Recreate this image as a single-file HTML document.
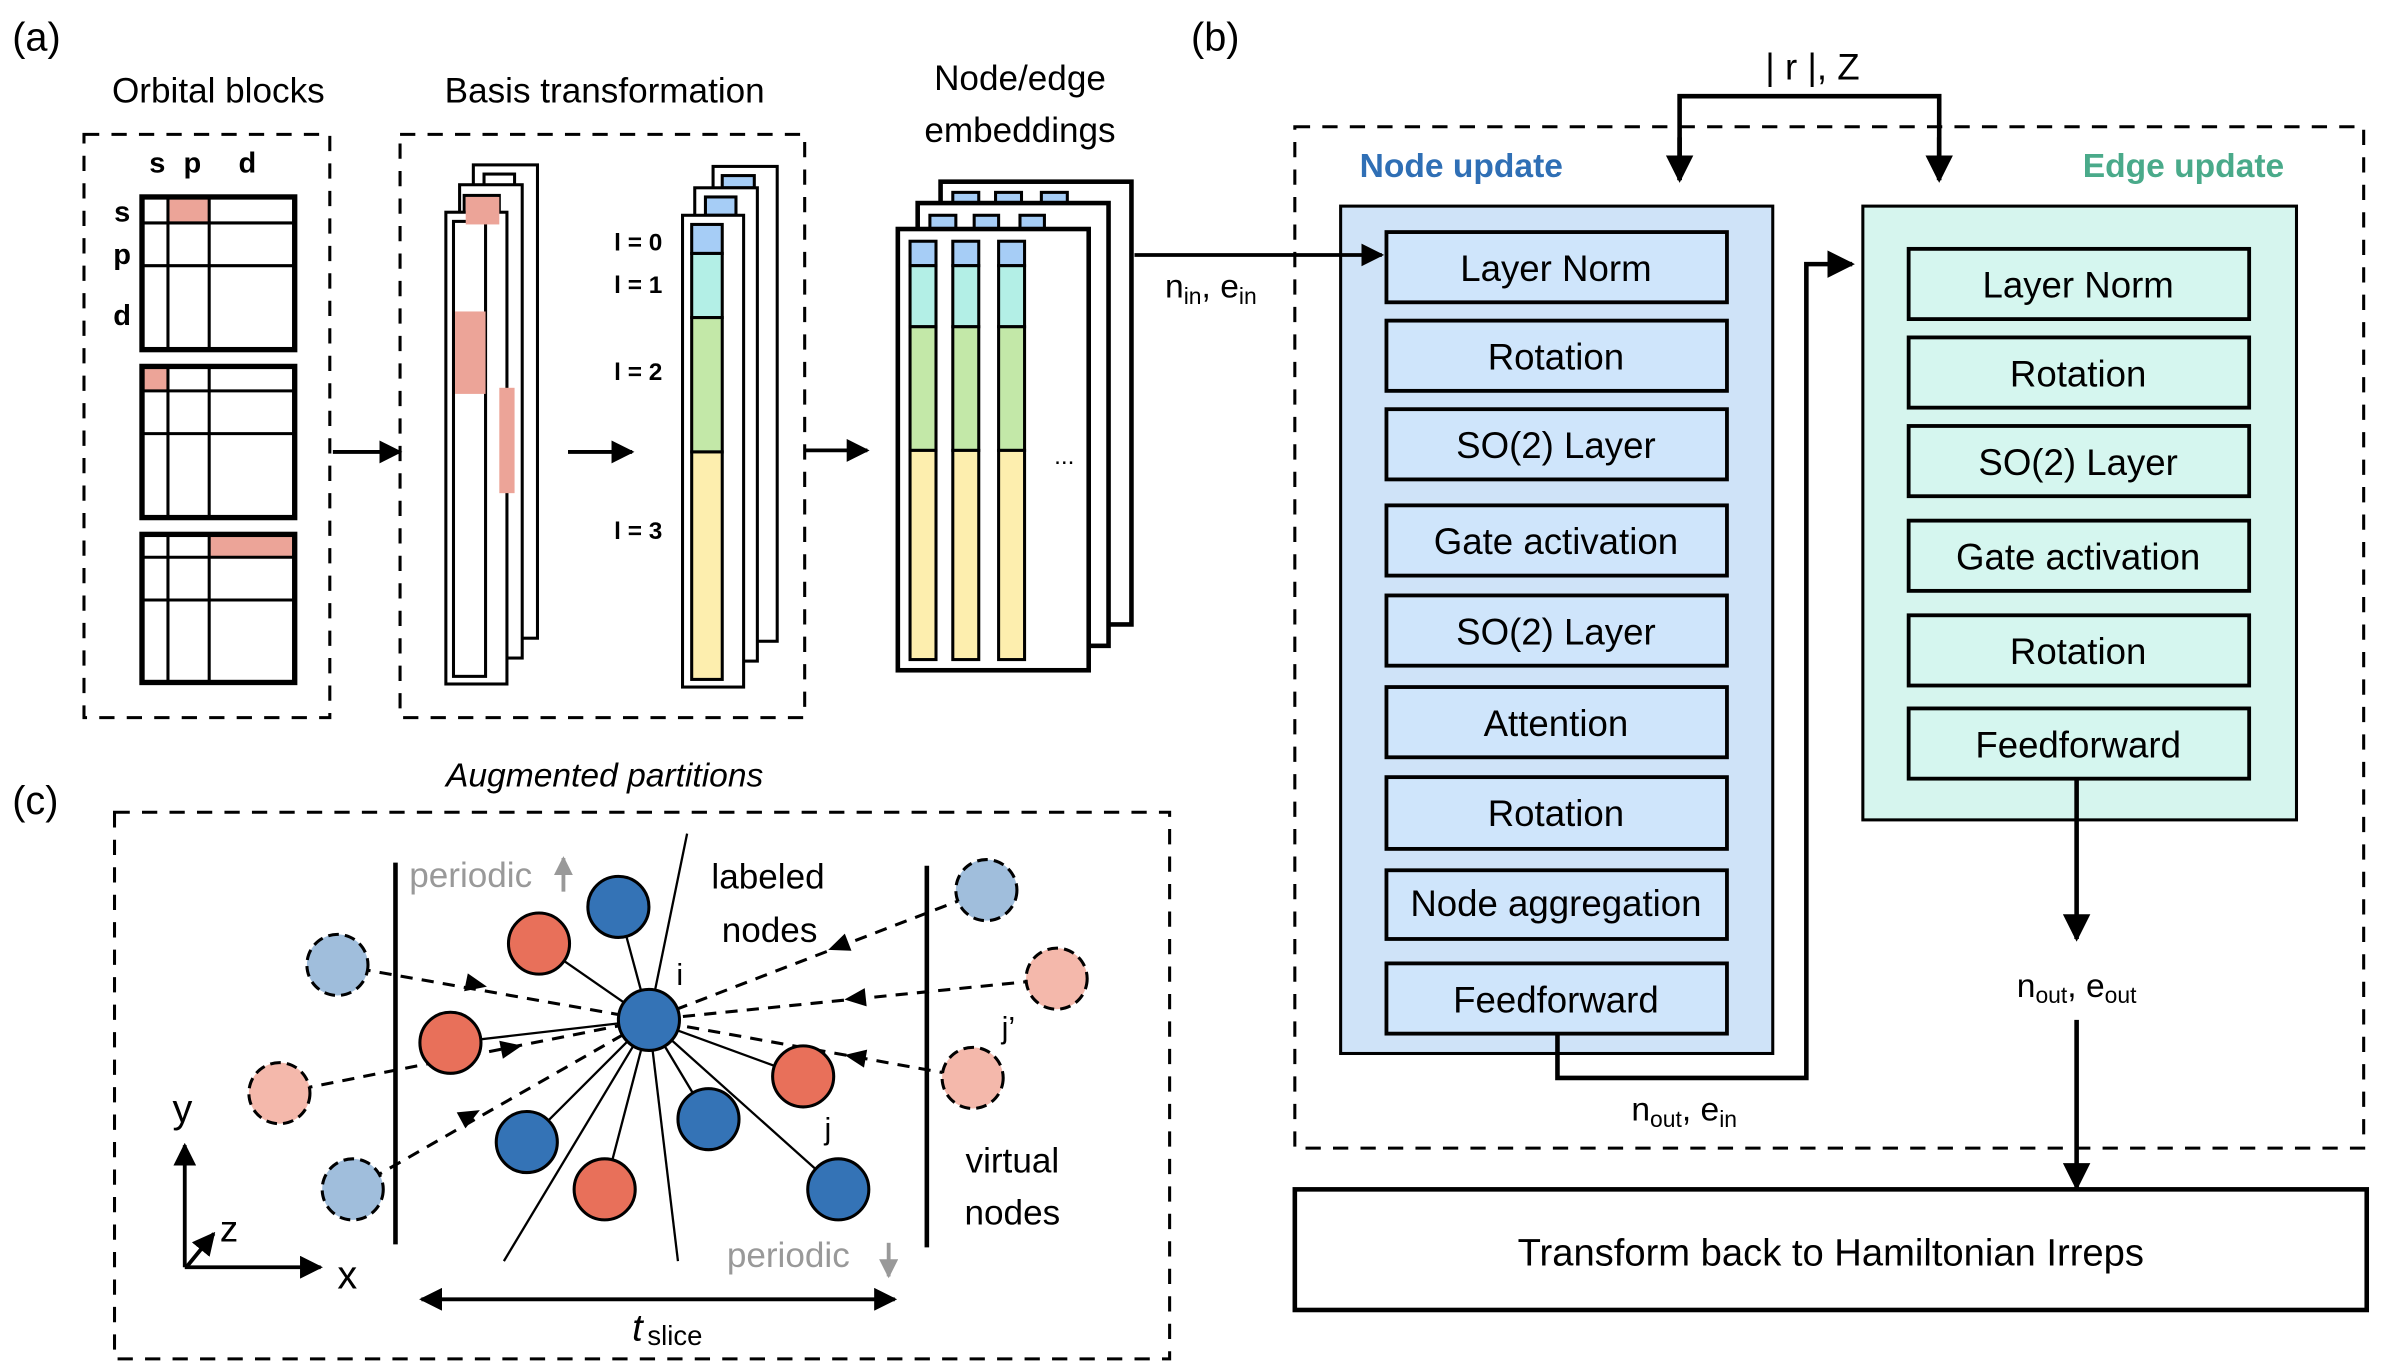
<!DOCTYPE html>
<html><head><meta charset="utf-8"><style>
html,body{margin:0;padding:0;background:#fff;}
svg{display:block;}
text{font-family:"Liberation Sans",sans-serif;}
</style></head><body>
<svg width="2382" height="1368" viewBox="0 0 1560 896" preserveAspectRatio="none" xmlns="http://www.w3.org/2000/svg">
<defs>
<marker id="ah" viewBox="0 0 10 10" refX="9" refY="5" markerWidth="6" markerHeight="6" orient="auto-start-reverse"><path d="M0,0 L10,5 L0,10 z" fill="#000"/></marker>
<marker id="ag" viewBox="0 0 10 10" refX="9" refY="5" markerWidth="5" markerHeight="5" orient="auto"><path d="M0,0 L10,5 L0,10 z" fill="#999"/></marker>
</defs>
<g font-size="26"><text x="8" y="33">(a)</text><text x="780" y="33">(b)</text><text x="8" y="533">(c)</text></g>

<!-- Panel a -->
<g fill="none" stroke="#000" stroke-width="2" stroke-dasharray="10,8">
<rect x="55" y="88" width="161" height="382"/>
<rect x="262" y="88" width="265" height="382"/>
</g>
<g font-size="23" text-anchor="middle">
<text x="143" y="67">Orbital blocks</text>
<text x="396" y="67">Basis transformation</text>
<text x="668" y="59">Node/edge</text>
<text x="668" y="93">embeddings</text>
</g>
<g font-size="19" font-weight="bold" text-anchor="middle">
<text x="103" y="113">s</text><text x="126" y="113">p</text><text x="162" y="113">d</text>
<text x="80" y="145">s</text><text x="80" y="173">p</text><text x="80" y="213">d</text>
</g>
<g fill="#eca498">
<rect x="110" y="129" width="27" height="17"/>
<rect x="94" y="241" width="16" height="15"/>
<rect x="137" y="350" width="56" height="15"/>
</g>
<g fill="none" stroke="#000" stroke-width="2">
<rect x="93" y="129" width="100" height="100" stroke-width="3.5"/>
<path d="M110 129V229M137 129V229M93 146H193M93 174H193"/>
<rect x="93" y="240" width="100" height="99" stroke-width="3.5"/>
<path d="M110 240V339M137 240V339M93 256H193M93 284H193"/>
<rect x="93" y="350" width="100" height="97" stroke-width="3.5"/>
<path d="M110 350V447M137 350V447M93 365H193M93 393H193"/>
</g>
<!-- basis stack -->
<g stroke="#000" stroke-width="2" fill="#fff">
<rect x="310" y="108" width="42" height="310"/>
<rect x="317" y="114" width="20" height="311"/>
<rect x="301" y="121" width="41" height="310"/>
<rect x="304" y="128" width="23" height="305"/>
<rect x="292" y="139" width="40" height="309"/>
<rect x="297" y="145" width="21" height="298"/>
</g>
<rect x="305" y="129" width="22" height="18" fill="#eca498"/>
<rect x="298" y="204" width="20" height="54" fill="#eca498"/>
<rect x="327" y="254" width="10" height="69" fill="#eca498"/>
<!-- l stack -->
<g stroke="#000" stroke-width="2" fill="#fff">
<rect x="467" y="109" width="42" height="311"/>
<rect x="473" y="115" width="21" height="8" fill="#a6cdf6"/>
<rect x="455" y="123" width="41" height="310"/>
<rect x="462" y="129" width="20" height="12" fill="#a6cdf6"/>
<rect x="447" y="141" width="40" height="309"/>
<rect x="453" y="147" width="20" height="19" fill="#a6cdf6"/>
<rect x="453" y="166" width="20" height="42" fill="#b3efe6"/>
<rect x="453" y="208" width="20" height="88" fill="#c3e8a8"/>
<rect x="453" y="296" width="20" height="149" fill="#fdeeae"/>
</g>
<g font-size="16" font-weight="bold" text-anchor="middle">
<text x="418" y="164">l = 0</text><text x="418" y="192">l = 1</text><text x="418" y="249">l = 2</text><text x="418" y="353">l = 3</text>
</g>
<!-- embeddings -->
<g stroke="#000" stroke-width="2">
<rect x="616" y="119" width="125" height="290" fill="#fff" stroke-width="3"/>
<rect x="624" y="126" width="17" height="7" fill="#a6cdf6"/><rect x="652" y="126" width="17" height="7" fill="#a6cdf6"/><rect x="682" y="126" width="17" height="7" fill="#a6cdf6"/>
<rect x="601" y="133" width="125" height="290" fill="#fff" stroke-width="3"/>
<rect x="609" y="141" width="17" height="9" fill="#a6cdf6"/><rect x="638" y="141" width="16" height="9" fill="#a6cdf6"/><rect x="668" y="141" width="16" height="9" fill="#a6cdf6"/>
<rect x="588" y="150" width="125" height="289" fill="#fff" stroke-width="3"/>
</g>
<g stroke="#000" stroke-width="2">
<g id="col"><rect x="596" y="158" width="17" height="16" fill="#a6cdf6"/><rect x="596" y="174" width="17" height="40" fill="#b3efe6"/><rect x="596" y="214" width="17" height="81" fill="#c3e8a8"/><rect x="596" y="295" width="17" height="137" fill="#fdeeae"/></g>
<use href="#col" x="28"/><use href="#col" x="58"/>
</g>
<text x="697" y="304" font-size="16" text-anchor="middle">...</text>
<g stroke="#000" stroke-width="2.5" fill="none" marker-end="url(#ah)">
<path d="M218 296H262"/><path d="M372 296H414"/><path d="M527 295H568"/>
</g>
<text x="763" y="195" font-size="22">n<tspan font-size="15" dy="4">in</tspan><tspan dy="-4">, e</tspan><tspan font-size="15" dy="4">in</tspan></text>

<!-- Panel b -->
<rect x="848" y="83" width="700" height="669" fill="none" stroke="#000" stroke-width="2" stroke-dasharray="10,8"/>
<text x="1187" y="52" font-size="24" text-anchor="middle">| r |, Z</text>
<path d="M1100 118V63H1270V118" fill="none" stroke="#000" stroke-width="3"/>
<path d="M1100 90V118" stroke="#000" stroke-width="3" marker-end="url(#ah)"/>
<path d="M1270 90V118" stroke="#000" stroke-width="3" marker-end="url(#ah)"/>
<text x="957" y="116" font-size="22" font-weight="bold" fill="#2f6fb5" text-anchor="middle">Node update</text>
<text x="1430" y="116" font-size="22" font-weight="bold" fill="#4aaa8a" text-anchor="middle">Edge update</text>
<rect x="878" y="135" width="283" height="555" fill="#cfe3f8" stroke="#000" stroke-width="2"/>
<rect x="1220" y="135" width="284" height="402" fill="#d6f5ee" stroke="#000" stroke-width="2"/>
<g stroke="#000" stroke-width="2.5" fill="#cfe5fb">
<rect x="908" y="152" width="223" height="46"/><rect x="908" y="210" width="223" height="46"/>
<rect x="908" y="268" width="223" height="46"/><rect x="908" y="331" width="223" height="46"/>
<rect x="908" y="390" width="223" height="46"/><rect x="908" y="450" width="223" height="46"/>
<rect x="908" y="509" width="223" height="47"/><rect x="908" y="570" width="223" height="45"/>
<rect x="908" y="631" width="223" height="46"/>
</g>
<g stroke="#000" stroke-width="2.5" fill="#d5f6ef">
<rect x="1250" y="163" width="223" height="46"/><rect x="1250" y="221" width="223" height="46"/>
<rect x="1250" y="279" width="223" height="46"/><rect x="1250" y="341" width="223" height="46"/>
<rect x="1250" y="403" width="223" height="46"/><rect x="1250" y="464" width="223" height="46"/>
</g>
<g font-size="24" text-anchor="middle">
<text x="1019" y="184">Layer Norm</text><text x="1019" y="242">Rotation</text>
<text x="1019" y="300">SO(2) Layer</text><text x="1019" y="363">Gate activation</text>
<text x="1019" y="422">SO(2) Layer</text><text x="1019" y="482">Attention</text>
<text x="1019" y="541">Rotation</text><text x="1019" y="600">Node aggregation</text>
<text x="1019" y="663">Feedforward</text>
<text x="1361" y="195">Layer Norm</text><text x="1361" y="253">Rotation</text>
<text x="1361" y="311">SO(2) Layer</text><text x="1361" y="373">Gate activation</text>
<text x="1361" y="435">Rotation</text><text x="1361" y="496">Feedforward</text>
</g>
<path d="M743 167H905" fill="none" stroke="#000" stroke-width="2.5" marker-end="url(#ah)"/>
<path d="M1020 677V706H1183V173H1213" fill="none" stroke="#000" stroke-width="3" marker-end="url(#ah)"/>
<text x="1103" y="734" font-size="22" text-anchor="middle">n<tspan font-size="15" dy="4">out</tspan><tspan dy="-4">, e</tspan><tspan font-size="15" dy="4">in</tspan></text>
<path d="M1360 510V615" stroke="#000" stroke-width="3" marker-end="url(#ah)"/>
<text x="1360" y="653" font-size="22" text-anchor="middle">n<tspan font-size="15" dy="4">out</tspan><tspan dy="-4">, e</tspan><tspan font-size="15" dy="4">out</tspan></text>
<path d="M1360 668V778" stroke="#000" stroke-width="3" marker-end="url(#ah)"/>
<rect x="848" y="779" width="702" height="79" fill="#fff" stroke="#000" stroke-width="3"/>
<text x="1199" y="829" font-size="25" text-anchor="middle">Transform back to Hamiltonian Irreps</text>

<!-- Panel c -->
<text x="396" y="515" font-size="22" font-style="italic" text-anchor="middle">Augmented partitions</text>
<rect x="75" y="532" width="691" height="358" fill="none" stroke="#000" stroke-width="2" stroke-dasharray="10,8"/>
<path d="M259 565V815M607 567V817" stroke="#000" stroke-width="3"/>
<g stroke="#000" stroke-width="1.5">
<path d="M425 668L450 546"/><path d="M425 668L405 594"/><path d="M425 668L353 618"/>
<path d="M425 668L295 683"/><path d="M425 668L330 826"/><path d="M425 668L444 826"/>
<path d="M425 668L345 748"/><path d="M425 668L396 779"/><path d="M425 668L464 733"/>
<path d="M425 668L526 705"/><path d="M425 668L549 779"/>
</g>
<g stroke="#000" stroke-width="2" stroke-dasharray="8,6" fill="none">
<path d="M221 632L425 668"/><path d="M183 716L425 668"/><path d="M231 779L425 668"/>
<path d="M646 583L425 668"/><path d="M692 641L425 668"/><path d="M637 706L425 668"/>
</g>
<g fill="#000">
<path d="M6,0 L-8,-6 L-8,6 z" transform="translate(313,645) rotate(11.6)"/>
<path d="M6,0 L-8,-6 L-8,6 z" transform="translate(336,686) rotate(-11.4)"/>
<path d="M6,0 L-8,-6 L-8,6 z" transform="translate(309,730) rotate(-28.5)"/>
<path d="M6,0 L-8,-6 L-8,6 z" transform="translate(548,620) rotate(158.7)"/>
<path d="M6,0 L-8,-6 L-8,6 z" transform="translate(559,654) rotate(174)"/>
<path d="M6,0 L-8,-6 L-8,6 z" transform="translate(559,692) rotate(190)"/>
</g>
<g stroke="#000" stroke-width="2">
<g fill="#3473b6"><circle cx="405" cy="594" r="20"/><circle cx="425" cy="668" r="20"/><circle cx="345" cy="748" r="20"/><circle cx="464" cy="733" r="20"/><circle cx="549" cy="779" r="20"/></g>
<g fill="#e8705a"><circle cx="353" cy="618" r="20"/><circle cx="295" cy="683" r="20"/><circle cx="526" cy="705" r="20"/><circle cx="396" cy="779" r="20"/></g>
<g stroke-dasharray="7,4"><g fill="#a0bedc"><circle cx="221" cy="632" r="20"/><circle cx="646" cy="583" r="20"/><circle cx="231" cy="779" r="20"/></g>
<g fill="#f4b8ab"><circle cx="183" cy="716" r="20"/><circle cx="692" cy="641" r="20"/><circle cx="637" cy="706" r="20"/></g></g>
</g>
<g font-size="23">
<text x="268" y="581" fill="#999">periodic</text>
<text x="476" y="830" fill="#999">periodic</text>
<text x="503" y="582" text-anchor="middle">labeled</text><text x="504" y="617" text-anchor="middle">nodes</text>
<text x="443" y="645" font-size="20">i</text><text x="656" y="680" font-size="20">j’</text><text x="540" y="746" font-size="20">j</text>
<text x="663" y="768" text-anchor="middle">virtual</text><text x="663" y="802" text-anchor="middle">nodes</text>
<text x="113" y="735" font-size="26">y</text><text x="144" y="813" font-size="24">z</text><text x="221" y="844" font-size="26">x</text>
</g>
<path d="M369 584V562" stroke="#999" stroke-width="2.5" marker-end="url(#ag)"/>
<path d="M582 814V836" stroke="#999" stroke-width="2.5" marker-end="url(#ag)"/>
<g stroke="#000" stroke-width="2.5" fill="none" marker-end="url(#ah)">
<path d="M121 830V750"/><path d="M121 830H210"/><path d="M122 830L140 808"/>
</g>
<path d="M276 851H586" stroke="#000" stroke-width="2.5" marker-start="url(#ah)" marker-end="url(#ah)"/>
<text x="414" y="878" font-size="25" font-style="italic" font-family="Liberation Serif,serif">t</text>
<text x="424" y="881" font-size="18">slice</text>
</svg>
</body></html>
